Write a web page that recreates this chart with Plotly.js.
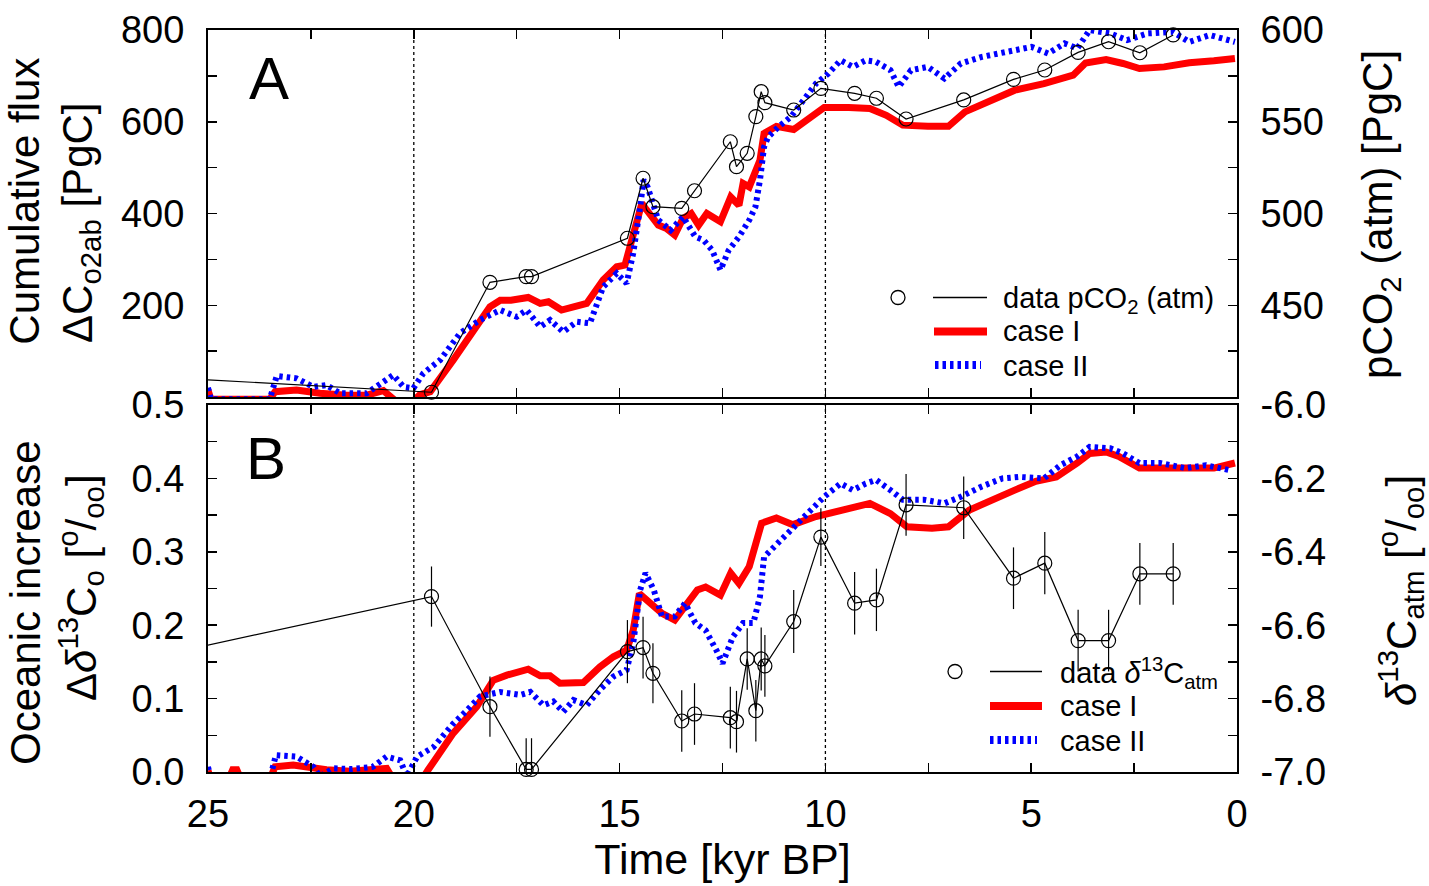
<!DOCTYPE html>
<html>
<head>
<meta charset="utf-8">
<script src="https://cdn.plot.ly/plotly-3.0.1.min.js"></script>
<style>html,body{margin:0;padding:0;background:#fff;}#chart{width:1429px;height:886px;}</style>
</head>
<body>
<div id="chart"></div>
<script>
// ---------------- DATA ----------------
// ages of the ice-core data points [kyr BP] (first entry lies beyond the plotted range)
const dataAge = [26.5, 19.57, 18.15, 17.27, 17.14, 14.81, 14.43, 14.19, 13.49, 13.18, 12.31, 12.16, 11.90, 11.69, 11.56, 11.47, 10.77, 10.11, 9.29, 8.76, 8.04, 6.64, 5.43, 4.67, 3.86, 3.12, 2.36, 1.55];
// atmospheric pCO2 expressed as carbon [PgC] (right axis, panel A)
const dataPCO2 = [411.2, 402.6, 462.5, 465.6, 465.6, 486.5, 519.2, 503.7, 502.8, 512.4, 539.1, 525.5, 532.8, 552.8, 566.4, 560.4, 556.4, 568.2, 565.5, 562.8, 551.5, 561.9, 573.1, 578.2, 587.8, 593.6, 587.6, 597.3];
// atmospheric d13C [permil] (right axis, panel B) and its uncertainty
const dataD13C = [-6.691, -6.522, -6.822, -6.993, -6.993, -6.672, -6.661, -6.731, -6.861, -6.842, -6.852, -6.863, -6.692, -6.833, -6.692, -6.711, -6.590, -6.360, -6.540, -6.531, -6.272, -6.280, -6.472, -6.431, -6.642, -6.642, -6.460, -6.460];
const dataD13CErr = [0, 0.082, 0.082, 0.085, 0.085, 0.086, 0.084, 0.082, 0.084, 0.084, 0.084, 0.084, 0.084, 0.084, 0.086, 0.084, 0.086, 0.079, 0.085, 0.085, 0.084, 0.085, 0.084, 0.085, 0.084, 0.084, 0.084, 0.084];

// Panel A: cumulative flux dC_o2ab [PgC]
const fluxCase1Age = [25.0, 24.93, 23.5, 23.37, 22.85, 22.28, 21.63, 21.14, 20.74, 20.58, 20.45, 20.0, 19.85, 19.6, 19.04, 18.15, 17.9, 17.64, 17.22, 16.93, 16.73, 16.41, 16.12, 15.80, 15.40, 15.07, 14.87, 14.67, 14.46, 14.37, 14.06, 13.86, 13.66, 13.46, 13.26, 13.08, 12.88, 12.55, 12.30, 12.10, 12.0, 11.85, 11.59, 11.49, 11.19, 10.77, 10.43, 10.03, 9.43, 8.92, 8.52, 8.12, 7.51, 7.01, 6.61, 5.90, 5.40, 4.69, 3.98, 3.68, 3.18, 2.77, 2.37, 1.77, 1.16, 0.56, 0.05];
const fluxCase1 = [15, -5, -5, 11.6, 15, 8, 4, 4, 14, 4, -8, -8, 5, 11.6, 80.6, 196.8, 211, 211, 217, 204, 207.6, 189.5, 195.4, 204, 255, 284, 287.6, 356.6, 422, 411, 374.7, 367.5, 353, 389.3, 400, 374.7, 400, 382, 436, 418, 465.6, 458, 516, 574.5, 590, 583, 603, 631, 631, 629, 614, 592.6, 590, 590, 621.5, 650.7, 668.8, 683, 701.5, 728, 735.7, 727, 716, 719.6, 728.5, 733, 738];
const fluxCase2Age = [25.0, 24.93, 23.5, 23.33, 22.85, 22.44, 22.12, 21.79, 21.15, 20.82, 20.5, 20.25, 20.01, 19.77, 19.36, 18.88, 18.39, 17.9, 17.5, 17.26, 16.93, 16.69, 16.37, 16.04, 15.72, 15.4, 15.07, 14.83, 14.67, 14.5, 14.42, 14.32, 14.06, 13.76, 13.46, 13.16, 12.96, 12.75, 12.55, 12.35, 12.10, 11.85, 11.70, 11.59, 11.49, 11.39, 11.14, 10.84, 10.54, 10.23, 9.93, 9.63, 9.33, 9.02, 8.77, 8.42, 8.22, 7.92, 7.51, 7.11, 6.71, 6.20, 5.60, 4.99, 4.59, 4.19, 3.88, 3.58, 3.08, 2.67, 2.17, 1.56, 1.16, 0.66, 0.05];
const fluxCase2 = [20, -5, -5, 45.8, 40.7, 22, 26, 8, 8, 30, 48, 22, 19, 51.6, 80.6, 138.8, 167.8, 189.5, 175, 189.5, 153, 167.8, 142, 164, 160.6, 240, 269.5, 247.7, 313, 414.6, 472.8, 458, 385.6, 363.8, 392.8, 349.2, 342, 320, 276.7, 320, 349, 385.6, 414.6, 472.8, 545.3, 567, 589, 610.6, 647, 683, 705, 734, 719.6, 734, 730.5, 712.4, 676, 712.4, 719.6, 694.3, 727, 741.4, 752.3, 763.2, 748.8, 770.7, 759.8, 800, 792.6, 778, 792.6, 796, 774, 789, 774];

// Panel B: oceanic increase d(d13C_o) [permil]
const d13Case1Age = [25.0, 24.93, 24.5, 24.4, 24.3, 24.2, 23.5, 23.37, 22.93, 22.52, 22.12, 21.55, 21.06, 20.66, 20.5, 19.8, 19.65, 19.04, 18.47, 18.07, 17.74, 17.22, 16.93, 16.69, 16.45, 15.88, 15.48, 15.15, 14.83, 14.67, 14.52, 14.27, 13.97, 13.66, 13.36, 13.11, 12.91, 12.55, 12.30, 12.10, 11.85, 11.55, 11.19, 10.79, 10.23, 9.63, 8.92, 8.42, 8.02, 7.41, 7.01, 6.50, 5.90, 5.40, 4.89, 4.39, 3.88, 3.58, 3.18, 2.87, 2.37, 1.77, 1.16, 0.56, 0.05];
const d13Case1 = [0.002, -0.01, -0.01, 0.003, 0.003, -0.01, -0.01, 0.007, 0.0095, 0.005, 0.003, 0.001, 0.003, 0.005, -0.01, -0.01, 0.003, 0.053, 0.089, 0.125, 0.132, 0.140, 0.131, 0.131, 0.121, 0.122, 0.143, 0.157, 0.166, 0.193, 0.243, 0.230, 0.216, 0.207, 0.230, 0.248, 0.252, 0.241, 0.271, 0.257, 0.280, 0.339, 0.346, 0.337, 0.348, 0.357, 0.366, 0.352, 0.334, 0.332, 0.334, 0.357, 0.373, 0.384, 0.396, 0.402, 0.421, 0.434, 0.436, 0.430, 0.414, 0.414, 0.416, 0.414, 0.421];
const d13Case2Age = [25.0, 24.93, 23.5, 23.35, 22.85, 22.44, 22.28, 21.95, 21.5, 21.0, 20.66, 20.33, 20.17, 19.92, 19.52, 19.04, 18.71, 18.39, 17.9, 17.41, 17.17, 16.85, 16.61, 16.37, 16.12, 15.80, 15.48, 15.15, 14.83, 14.67, 14.5, 14.37, 14.17, 13.97, 13.66, 13.41, 13.16, 12.91, 12.65, 12.50, 12.25, 12.00, 11.75, 11.59, 11.49, 11.24, 10.94, 10.43, 10.03, 9.63, 9.33, 9.02, 8.77, 8.42, 8.12, 7.61, 7.11, 6.71, 6.20, 5.70, 5.30, 4.69, 4.29, 3.88, 3.58, 3.08, 2.77, 2.37, 1.87, 1.26, 0.76, 0.16];
const d13Case2 = [0.007, -0.01, -0.01, 0.023, 0.021, 0.007, -0.006, 0.005, 0.004, 0.007, 0.021, 0.016, -0.006, 0.021, 0.034, 0.066, 0.084, 0.103, 0.109, 0.105, 0.109, 0.091, 0.096, 0.082, 0.098, 0.091, 0.112, 0.130, 0.139, 0.175, 0.248, 0.271, 0.248, 0.212, 0.212, 0.230, 0.203, 0.193, 0.166, 0.148, 0.184, 0.203, 0.203, 0.239, 0.293, 0.307, 0.325, 0.352, 0.375, 0.393, 0.384, 0.393, 0.398, 0.384, 0.371, 0.371, 0.366, 0.375, 0.389, 0.400, 0.402, 0.400, 0.418, 0.430, 0.443, 0.441, 0.434, 0.421, 0.421, 0.414, 0.418, 0.411];

// labelled ticks (unlabelled minor ticks every half step)
const timeTickVals = [25, 20, 15, 10, 5, 0];
const timeTickText = ['25', '20', '15', '10', '5', '0'];
const fluxTickVals = [200, 400, 600, 800];
const fluxTickText = ['200', '400', '600', '800'];
const pco2TickVals = [450, 500, 550, 600];
const pco2TickText = ['450', '500', '550', '600'];
const oceTickVals = [0, 0.1, 0.2, 0.3, 0.4, 0.5];
const oceTickText = ['0.0', '0.1', '0.2', '0.3', '0.4', '0.5'];
const atmTickVals = [-7, -6.8, -6.6, -6.4, -6.2, -6.0];
const atmTickText = ['-7.0', '-6.8', '-6.6', '-6.4', '-6.2', '-6.0'];

// ---------------- STYLE ----------------
const FONT = 'Liberation Sans, Arial, Helvetica, sans-serif';
const RED = '#ff0000', BLUE = '#0000ff';
const L = 208, R = 192, T = 30, B = 114, W = 1429, H = 886;
const PW = W - L - R, PH = H - T - B;
const X = px => (px - L) / PW;
const Y = py => (H - B - py) / PH;

const case1Line = {color: RED, width: 7};
const case2Line = {color: BLUE, width: 6, dash: '3.5px,4px'};
const dataMarker = {symbol: 'circle-open', size: 14, color: 'black', line: {width: 1.2, color: 'black'}};

const traces = [
  {x: fluxCase1Age, y: fluxCase1, xaxis: 'x', yaxis: 'y', mode: 'lines', line: case1Line, name: 'case I', showlegend: false},
  {x: fluxCase2Age, y: fluxCase2, xaxis: 'x', yaxis: 'y', mode: 'lines', line: case2Line, name: 'case II', showlegend: false},
  {x: dataAge, y: dataPCO2, xaxis: 'x', yaxis: 'y3', mode: 'lines+markers', line: {color: 'black', width: 1.2}, marker: dataMarker, cliponaxis: false, name: 'data pCO2 (atm)', showlegend: false},
  {x: d13Case1Age, y: d13Case1, xaxis: 'x2', yaxis: 'y2', mode: 'lines', line: case1Line, name: 'case I', showlegend: false},
  {x: d13Case2Age, y: d13Case2, xaxis: 'x2', yaxis: 'y2', mode: 'lines', line: case2Line, name: 'case II', showlegend: false},
  {x: dataAge, y: dataD13C, xaxis: 'x2', yaxis: 'y4', mode: 'lines+markers', line: {color: 'black', width: 1.2}, marker: dataMarker, cliponaxis: false,
   error_y: {type: 'data', array: dataD13CErr, visible: true, color: 'black', thickness: 1.2, width: 0}, name: 'data d13C atm', showlegend: false}
];

const axCommon = {
  ticks: 'inside', ticklen: 9, tickwidth: 1.5, tickcolor: 'black',
  showline: true, linecolor: 'black', linewidth: 2, showgrid: false, zeroline: false,
  tickfont: {family: FONT, size: 38, color: 'black'}, tickmode: 'array', fixedrange: true
};
const minorTicks = (t0, dt) => ({ticks: 'inside', ticklen: 9, tickwidth: 1.5, tickcolor: 'black', tickmode: 'linear', tick0: t0, dtick: dt, showgrid: false});
const topDom = [Y(397), 1];
const botDom = [0, Y(405)];

const layout = {
  width: W, height: H,
  margin: {l: L, r: R, t: T, b: B, pad: 0},
  paper_bgcolor: 'white', plot_bgcolor: 'white',
  showlegend: false,
  font: {family: FONT, color: 'black'},
  xaxis: Object.assign({}, axCommon, {anchor: 'y', domain: [0, 1], range: [25, 0], tickvals: timeTickVals, ticktext: timeTickText, showticklabels: false, mirror: 'ticks', minor: minorTicks(0, 2.5)}),
  xaxis2: Object.assign({}, axCommon, {anchor: 'y2', domain: [0, 1], range: [25, 0], tickvals: timeTickVals, ticktext: timeTickText, mirror: 'ticks', ticklabelstandoff: 7, minor: minorTicks(0, 2.5),
    title: {text: 'Time [kyr BP]', font: {family: FONT, size: 43, color: 'black'}, standoff: 9}}),
  yaxis: Object.assign({}, axCommon, {anchor: 'x', domain: topDom, range: [0, 800], tickvals: fluxTickVals, ticktext: fluxTickText, ticklabelstandoff: 14, minor: minorTicks(0, 100)}),
  yaxis3: Object.assign({}, axCommon, {anchor: 'x', overlaying: 'y', side: 'right', range: [400, 600], tickvals: pco2TickVals, ticktext: pco2TickText, ticklabelstandoff: 14, minor: minorTicks(400, 25)}),
  yaxis2: Object.assign({}, axCommon, {anchor: 'x2', domain: botDom, range: [0, 0.5], tickvals: oceTickVals, ticktext: oceTickText, ticklabelstandoff: 14, minor: minorTicks(0, 0.05)}),
  yaxis4: Object.assign({}, axCommon, {anchor: 'x2', overlaying: 'y2', side: 'right', range: [-7, -6], tickvals: atmTickVals, ticktext: atmTickText, ticklabelstandoff: 14, minor: minorTicks(-7, 0.1)}),
  shapes: [
    {type: 'line', xref: 'x', yref: 'y domain', x0: 20, x1: 20, y0: 0, y1: 1, line: {color: 'black', width: 1.3, dash: 'dot'}, layer: 'below'},
    {type: 'line', xref: 'x', yref: 'y domain', x0: 10, x1: 10, y0: 0, y1: 1, line: {color: 'black', width: 1.3, dash: 'dot'}, layer: 'below'},
    {type: 'line', xref: 'x2', yref: 'y2 domain', x0: 20, x1: 20, y0: 0, y1: 1, line: {color: 'black', width: 1.3, dash: 'dot'}, layer: 'below'},
    {type: 'line', xref: 'x2', yref: 'y2 domain', x0: 10, x1: 10, y0: 0, y1: 1, line: {color: 'black', width: 1.3, dash: 'dot'}, layer: 'below'},
    // legend A
    {type: 'circle', xref: 'paper', yref: 'paper', xsizemode: 'pixel', ysizemode: 'pixel', xanchor: X(898), yanchor: Y(297.5), x0: -7, x1: 7, y0: -7, y1: 7, line: {color: 'black', width: 1.3}},
    {type: 'line', xref: 'paper', yref: 'paper', x0: X(933), x1: X(987), y0: Y(297.5), y1: Y(297.5), line: {color: 'black', width: 1.3}},
    {type: 'line', xref: 'paper', yref: 'paper', x0: X(934), x1: X(987), y0: Y(331.5), y1: Y(331.5), line: {color: RED, width: 8}},
    {type: 'line', xref: 'paper', yref: 'paper', x0: X(935), x1: X(981), y0: Y(365), y1: Y(365), line: {color: BLUE, width: 8, dash: '3.5px,4px'}},
    // legend B
    {type: 'circle', xref: 'paper', yref: 'paper', xsizemode: 'pixel', ysizemode: 'pixel', xanchor: X(955), yanchor: Y(671.5), x0: -7, x1: 7, y0: -7, y1: 7, line: {color: 'black', width: 1.3}},
    {type: 'line', xref: 'paper', yref: 'paper', x0: X(990), x1: X(1042), y0: Y(671.5), y1: Y(671.5), line: {color: 'black', width: 1.3}},
    {type: 'line', xref: 'paper', yref: 'paper', x0: X(990), x1: X(1042), y0: Y(706), y1: Y(706), line: {color: RED, width: 8}},
    {type: 'line', xref: 'paper', yref: 'paper', x0: X(990), x1: X(1037), y0: Y(740), y1: Y(740), line: {color: BLUE, width: 8, dash: '3.5px,4px'}}
  ],
  annotations: [
    {text: 'A', xref: 'paper', yref: 'paper', x: X(269), y: Y(78), xanchor: 'center', yanchor: 'middle', showarrow: false, font: {family: FONT, size: 60, color: 'black'}},
    {text: 'B', xref: 'paper', yref: 'paper', x: X(266), y: Y(458), xanchor: 'center', yanchor: 'middle', showarrow: false, font: {family: FONT, size: 60, color: 'black'}},
    // legend texts
    {text: 'data pCO<sub>2</sub> (atm)', xref: 'paper', yref: 'paper', x: X(1001), y: Y(300), xanchor: 'left', yanchor: 'middle', showarrow: false, font: {family: FONT, size: 29, color: 'black'}},
    {text: 'case I', xref: 'paper', yref: 'paper', x: X(1001), y: Y(331.5), xanchor: 'left', yanchor: 'middle', showarrow: false, font: {family: FONT, size: 29, color: 'black'}},
    {text: 'case II', xref: 'paper', yref: 'paper', x: X(1001), y: Y(365.5), xanchor: 'left', yanchor: 'middle', showarrow: false, font: {family: FONT, size: 29, color: 'black'}},
    {text: 'data <i>δ</i><sup>13</sup>C<sub>atm</sub>', xref: 'paper', yref: 'paper', x: X(1058), y: Y(673), xanchor: 'left', yanchor: 'middle', showarrow: false, font: {family: FONT, size: 29, color: 'black'}},
    {text: 'case I', xref: 'paper', yref: 'paper', x: X(1058), y: Y(706), xanchor: 'left', yanchor: 'middle', showarrow: false, font: {family: FONT, size: 29, color: 'black'}},
    {text: 'case II', xref: 'paper', yref: 'paper', x: X(1058), y: Y(740.5), xanchor: 'left', yanchor: 'middle', showarrow: false, font: {family: FONT, size: 29, color: 'black'}},
    // axis titles
    {text: 'Cumulative flux', xref: 'paper', yref: 'paper', x: X(25), y: Y(201.7), xanchor: 'center', yanchor: 'middle', textangle: -90, showarrow: false, font: {family: FONT, size: 42, color: 'black'}},
    {text: 'ΔC<sub>o2ab</sub> [PgC]', xref: 'paper', yref: 'paper', x: X(80), y: Y(223), xanchor: 'center', yanchor: 'middle', textangle: -90, showarrow: false, font: {family: FONT, size: 42, color: 'black'}},
    {text: 'Oceanic increase', xref: 'paper', yref: 'paper', x: X(25), y: Y(603), xanchor: 'center', yanchor: 'middle', textangle: -90, showarrow: false, font: {family: FONT, size: 42, color: 'black'}},
    {text: 'Δ<i>δ</i><sup>13</sup>C<sub>o</sub> [<sup>o</sup>/<sub>oo</sub>]', xref: 'paper', yref: 'paper', x: X(80), y: Y(588), xanchor: 'center', yanchor: 'middle', textangle: -90, showarrow: false, font: {family: FONT, size: 42, color: 'black'}},
    {text: 'pCO<sub>2</sub> (atm) [PgC]', xref: 'paper', yref: 'paper', x: X(1381), y: Y(215), xanchor: 'center', yanchor: 'middle', textangle: -90, showarrow: false, font: {family: FONT, size: 42, color: 'black'}},
    {text: '<i>δ</i><sup>13</sup>C<sub>atm</sub> [<sup>o</sup>/<sub>oo</sub>]', xref: 'paper', yref: 'paper', x: X(1400), y: Y(591), xanchor: 'center', yanchor: 'middle', textangle: -90, showarrow: false, font: {family: FONT, size: 42, color: 'black'}}
  ]
};

Plotly.newPlot('chart', traces, layout, {displayModeBar: false, staticPlot: true});
</script>
</body>
</html>
